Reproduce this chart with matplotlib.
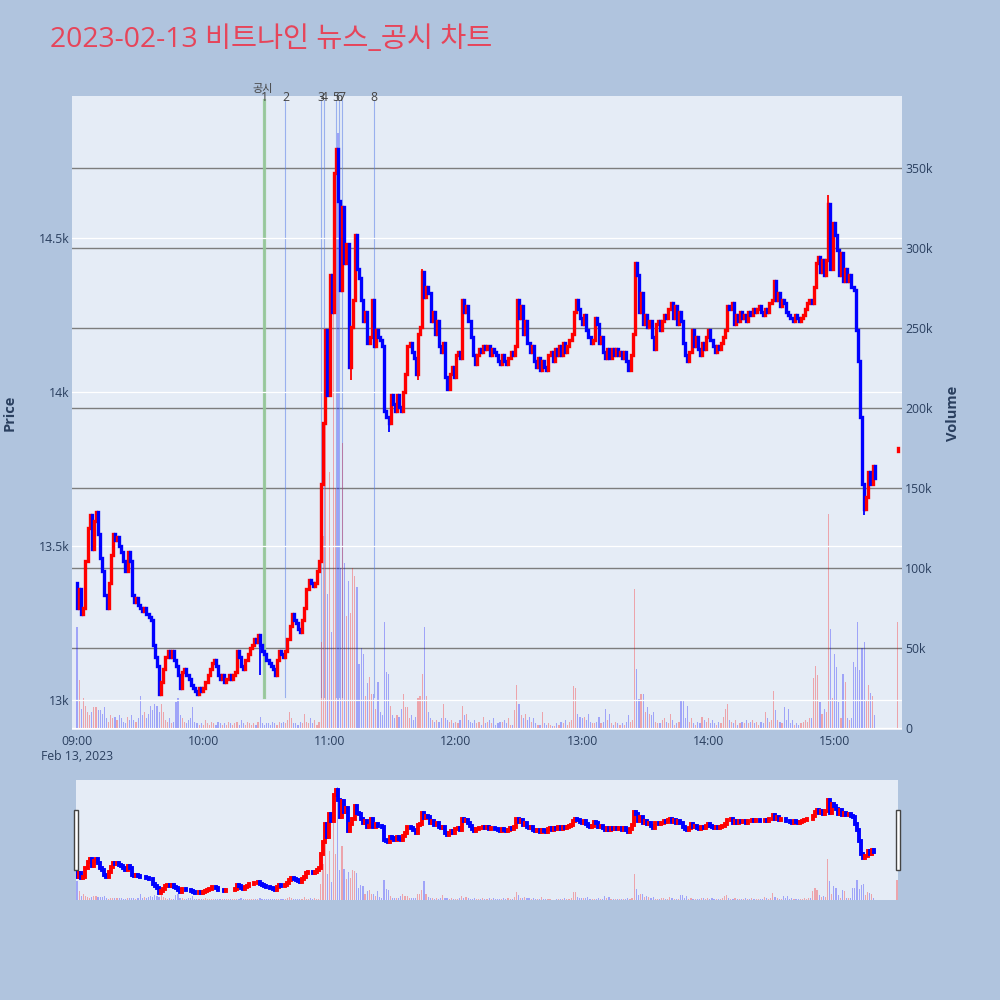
import matplotlib
matplotlib.use('Agg')
import matplotlib.pyplot as plt
from matplotlib.collections import LineCollection
from matplotlib.patches import Rectangle
import numpy as np

plt.rcParams['font.family'] = ['Open Sans', 'Noto Sans CJK KR', 'DejaVu Sans']

# ---------------- data ----------------
title = '2023-02-13 비트나인 뉴스_공시 차트'
session_start = '09:00'
first_open = 13380

# 1-minute closes from 09:00 to 15:19
closes = [
    13300, 13360, 13280, 13300, 13450, 13560, 13600, 13490, 13580, 13610,
    13540, 13460, 13420, 13340, 13300, 13380, 13470, 13540, 13520, 13530,
    13500, 13480, 13450, 13420, 13480, 13450, 13340, 13320, 13330, 13310,
    13300, 13290, 13300, 13280, 13270, 13260, 13180, 13140, 13110, 13020,
    13060, 13100, 13140, 13160, 13140, 13160, 13130, 13110, 13080, 13040,
    13090, 13100, 13080, 13070, 13050, 13040, 13030, 13020, 13040, 13030,
    13040, 13060, 13080, 13100, 13120, 13130, 13110, 13080, 13070, 13080,
    13060, 13070, 13080, 13070, 13080, 13090, 13160, 13140, 13110, 13100,
    13130, 13150, 13170, 13180, 13200, 13190, 13210, 13180, 13160, 13150,
    13130, 13120, 13110, 13100, 13080, 13130, 13160, 13150, 13140, 13160,
    13200, 13240, 13280, 13260, 13250, 13230, 13220, 13260, 13300, 13360,
    13390, 13380, 13370, 13380, 13420, 13450, 13700, 13900, 14200, 13990,
    14380, 14260, 14710, 14790, 14620, 14330, 14600, 14420, 14480, 14080,
    14210, 14300, 14510, 14400, 14370, 14300, 14230, 14260, 14160, 14180,
    14300, 14150, 14200, 14180, 14170, 14150, 13940, 13920, 13900, 13990,
    13960, 13940, 13990, 13950, 13940, 14000, 14060, 14150, 14160, 14130,
    14110, 14060, 14190, 14210, 14390, 14310, 14340, 14320, 14230, 14260,
    14190, 14230, 14150, 14130, 14160, 14050, 14010, 14060, 14080, 14050,
    14120, 14130, 14110, 14300, 14260, 14280, 14230, 14180, 14120, 14090,
    14120, 14140, 14130, 14150, 14140, 14150, 14120, 14140, 14130, 14120,
    14100, 14090, 14120, 14100, 14090, 14110, 14130, 14120, 14150, 14300,
    14240, 14280, 14190, 14230, 14160, 14130, 14150, 14100, 14080, 14110,
    14070, 14100, 14080, 14070, 14120, 14130, 14100, 14140, 14120, 14150,
    14120, 14160, 14130, 14150, 14170, 14190, 14260, 14300, 14270, 14240,
    14220, 14250, 14200, 14180, 14160, 14170, 14240, 14220, 14160, 14180,
    14130, 14110, 14140, 14110, 14140, 14120, 14140, 14120, 14130, 14110,
    14130, 14100, 14070, 14120, 14190, 14420, 14380, 14260, 14320, 14220,
    14250, 14210, 14230, 14180, 14140, 14220, 14230, 14200, 14230, 14250,
    14240, 14270, 14290, 14240, 14280, 14220, 14260, 14230, 14160, 14120,
    14100, 14130, 14200, 14150, 14180, 14140, 14120, 14160, 14140, 14180,
    14200, 14170, 14150, 14130, 14150, 14140, 14160, 14180, 14200, 14280,
    14270, 14290, 14220, 14250, 14230, 14260, 14240, 14250, 14230, 14260,
    14250, 14270, 14260, 14270, 14280, 14260, 14250, 14270, 14260, 14290,
    14300, 14360, 14300, 14320, 14280, 14300, 14290, 14260, 14250, 14240,
    14230, 14250, 14240, 14230, 14240, 14250, 14270, 14290, 14300, 14290,
    14340, 14420, 14440, 14390, 14430, 14380, 14430, 14610, 14400, 14550,
    14510, 14460, 14380, 14450, 14360, 14400, 14360, 14380, 14340, 14330,
    14200, 14100, 13920, 13700, 13620, 13660, 13740, 13700, 13760, 13720,
]

# 1-minute volumes (thousand shares)
volumes_k = [
    63, 30, 12, 19, 14, 10, 8, 10, 13, 13,
    11, 11, 9, 13, 6, 4, 8, 6, 7, 5,
    8, 6, 4, 3, 7, 5, 8, 5, 4, 6,
    20, 8, 10, 6, 9, 14, 11, 15, 14, 10,
    15, 10, 5, 4, 6, 3, 4, 16, 19, 8,
    6, 4, 3, 5, 6, 13, 4, 3, 2, 3,
    2, 5, 3, 2, 4, 3, 2, 4, 3, 2,
    3, 2, 4, 3, 2, 3, 4, 2, 5, 3,
    2, 4, 3, 2, 3, 2, 4, 7, 3, 2,
    3, 3, 2, 4, 3, 2, 4, 3, 4, 3,
    5, 10, 6, 3, 3, 2, 4, 3, 9, 4,
    3, 6, 3, 5, 2, 4, 54, 120, 200, 84,
    160, 60, 280, 150, 372, 100, 178, 103, 70, 92,
    72, 100, 95, 88, 40, 50, 46, 20, 28, 32,
    21, 21, 12, 29, 10, 8, 66, 35, 34, 14,
    8, 6, 8, 7, 12, 21, 13, 13, 6, 8,
    5, 7, 19, 20, 34, 63, 20, 10, 6, 5,
    4, 5, 4, 6, 15, 6, 5, 4, 5, 3,
    4, 3, 5, 14, 8, 9, 5, 4, 3, 5,
    3, 4, 2, 7, 3, 4, 5, 3, 6, 2,
    3, 4, 4, 5, 3, 6, 2, 2, 11, 27,
    15, 8, 6, 9, 5, 7, 4, 6, 3, 2,
    2, 10, 3, 2, 3, 2, 1, 1, 3, 2,
    4, 3, 5, 2, 4, 5, 26, 25, 9, 7,
    6, 7, 5, 9, 4, 3, 3, 4, 7, 3,
    4, 12, 5, 9, 3, 2, 4, 3, 2, 3,
    2, 4, 8, 4, 5, 87, 37, 18, 21, 21,
    10, 13, 9, 8, 10, 4, 3, 3, 5, 6,
    4, 3, 9, 5, 2, 3, 4, 17, 17, 6,
    14, 4, 6, 3, 2, 4, 3, 7, 5, 4,
    6, 3, 5, 3, 2, 4, 3, 7, 12, 15,
    5, 4, 3, 5, 2, 3, 4, 3, 5, 3,
    4, 5, 3, 4, 2, 4, 3, 10, 6, 4,
    5, 23, 11, 5, 4, 3, 13, 5, 12, 3,
    5, 2, 3, 2, 3, 4, 5, 4, 6, 6,
    31, 39, 33, 16, 9, 12, 10, 134, 62, 19,
    46, 38, 16, 6, 34, 29, 6, 5, 6, 41,
    38, 66, 36, 50, 54, 17, 27, 22, 20, 8,
]

# visible long wicks: (minute index, price extreme)
low_wicks = [(87, 13080), (130, 14040), (148, 13870), (162, 14040), (374, 13600)]
high_wicks = [(357, 14640), (164, 14400)]

# closing auction
auction_time = '15:30'
auction_open = 13810
auction_close = 13820
auction_volume_k = 66

disclosure_time = '10:29'
disclosure_label = '공시'
news_times = ['10:29', '10:39', '10:56', '10:57:30', '11:03', '11:04:30', '11:05:45', '11:21']
news_labels = ['1', '2', '3', '4', '5', '6', '7', '8']

price_ticks = [13000, 13500, 14000, 14500]
price_tick_labels = ['13k', '13.5k', '14k', '14.5k']
volume_ticks = [0, 50000, 100000, 150000, 200000, 250000, 300000, 350000]
volume_tick_labels = ['0', '50k', '100k', '150k', '200k', '250k', '300k', '350k']
time_ticks = ['09:00', '10:00', '11:00', '12:00', '13:00', '14:00', '15:00']
date_label = 'Feb 13, 2023'

assert len(closes) == len(volumes_k)

# ---------------- helpers ----------------
def to_min(t):
    parts = [int(p) for p in t.split(':')]
    h, m = parts[0], parts[1]
    s = parts[2] if len(parts) > 2 else 0
    h0, m0 = [int(p) for p in session_start.split(':')]
    return (h - h0) * 60 + (m - m0) + s / 60.0

n = len(closes)
x = np.arange(n, dtype=float)
c = np.array(closes, dtype=float)
o = np.concatenate([[first_open], c[:-1]])
v = np.array(volumes_k, dtype=float) * 1000

xa = to_min(auction_time)
x_all = np.concatenate([x, [xa]])
o_all = np.concatenate([o, [auction_open]])
c_all = np.concatenate([c, [auction_close]])
v_all = np.concatenate([v, [auction_volume_k * 1000]])
up = c_all > o_all

RED = '#ff0000'
BLUE = '#0000ff'
cols = np.where(up, RED, BLUE)

def draw_candles(ax, lw, wick_lw=None):
    if wick_lw:
        wsegs, wcols = [], []
        for i, lo in low_wicks:
            wsegs.append([(x_all[i], lo), (x_all[i], min(o_all[i], c_all[i]))])
            wcols.append(cols[i])
        for i, hi in high_wicks:
            wsegs.append([(x_all[i], max(o_all[i], c_all[i])), (x_all[i], hi)])
            wcols.append(cols[i])
        ax.add_collection(LineCollection(wsegs, colors=wcols, linewidths=wick_lw, zorder=2.9))
    segs = [[(xi, oi), (xi, ci)] for xi, oi, ci in zip(x_all, o_all, c_all)]
    lc = LineCollection(segs, colors=list(cols), linewidths=lw, capstyle='projecting', zorder=3)
    ax.add_collection(lc)

def draw_volume(ax):
    ax.bar(x_all, v_all, width=0.55, color=list(cols), alpha=0.3, linewidth=0, zorder=2)

# ---------------- figure ----------------
BG = '#b0c4de'
PLOT_BG = '#e5ecf6'
TXT = '#2a3f5f'

fig = plt.figure(figsize=(10, 10), dpi=100, facecolor=BG)

# main panel
ax_v = fig.add_axes([0.072, 0.270, 0.830, 0.634])
ax_v.set_facecolor(PLOT_BG)
ax_p = ax_v.twinx()

xlim = (-2.4, 392.0)
price_lim = (12903, 14961)
vol_lim = (-1250, 395000)

ax_v.set_xlim(*xlim)
ax_v.set_ylim(*vol_lim)
ax_p.set_ylim(*price_lim)

# gridlines
for vt in volume_ticks:
    if vt == 0:
        ax_v.axhline(vt, color='white', lw=1.0, zorder=0)
    else:
        ax_v.axhline(vt, color='#7d7d7d', lw=1.0, zorder=1)
for pt in price_ticks:
    ax_p.axhline(pt, color='white', lw=0.9, zorder=0)

draw_volume(ax_v)

# disclosure / news lines
for t in news_times:
    ax_v.axvline(to_min(t), ymin=0.052, ymax=0.994, color='#5b7fe8', alpha=0.55, lw=0.8, zorder=1.6)
ax_v.axvline(to_min(disclosure_time), ymin=0.052, ymax=0.994, color='#96c896', alpha=0.9, lw=2.3, zorder=1.7)

xform = ax_v.get_xaxis_transform()
ax_v.text(to_min(disclosure_time) - 0.6, 1.0095, disclosure_label, transform=xform, ha='center', va='center',
          fontsize=8, color='#444444')
for t, lab in zip(news_times, news_labels):
    ax_v.text(to_min(t), 0.9984, lab, transform=xform, ha='center', va='center',
              fontsize=8.8, color='#444444')

draw_candles(ax_p, 2.4, wick_lw=1.3)

for a in (ax_v, ax_p):
    for s in a.spines.values():
        s.set_visible(False)

ax_v.set_xticks([to_min(t) for t in time_ticks])
ax_v.set_xticklabels([time_ticks[0] + '\n' + date_label] + time_ticks[1:])
ax_v.tick_params(axis='x', length=0, pad=3.5, labelsize=8.8, labelcolor=TXT)

ax_v.yaxis.tick_right()
ax_v.set_yticks(volume_ticks)
ax_v.set_yticklabels(volume_tick_labels)
ax_v.tick_params(axis='y', length=0, pad=2.2, labelsize=8.8, labelcolor=TXT)

ax_p.yaxis.tick_left()
ax_p.set_yticks(price_ticks)
ax_p.set_yticklabels(price_tick_labels)
ax_p.tick_params(axis='y', length=0, pad=1.5, labelsize=8.8, labelcolor=TXT)

fig.text(0.010, 0.587, 'Price', rotation=90, ha='center', va='center', fontsize=10.5,
         fontweight='bold', color=TXT)
fig.text(0.953, 0.587, 'Volume', rotation=90, ha='center', va='center', fontsize=10.5,
         fontweight='bold', color=TXT)

fig.text(0.050, 0.960, title, ha='left', va='center', fontsize=20.4, color='#e6455a')

# range slider
ax_s = fig.add_axes([0.076, 0.100, 0.822, 0.120])
ax_s.set_facecolor(PLOT_BG)
ax_s2 = ax_s.twinx()
ax_s.set_xlim(-0.5, xa + 0.5)
ax_s.set_ylim(0, vol_lim[1])
ax_s2.set_ylim(*price_lim)
draw_volume(ax_s)
draw_candles(ax_s2, 2.8)
for a in (ax_s, ax_s2):
    a.set_xticks([])
    a.set_yticks([])
    for s in a.spines.values():
        s.set_visible(False)

for hx in (0.0735, 0.8960):
    fig.add_artist(Rectangle((hx, 0.130), 0.004, 0.060, transform=fig.transFigure,
                             facecolor='white', edgecolor='#444444', lw=1.0))

fig.savefig('out.png', dpi=100, facecolor=BG)
